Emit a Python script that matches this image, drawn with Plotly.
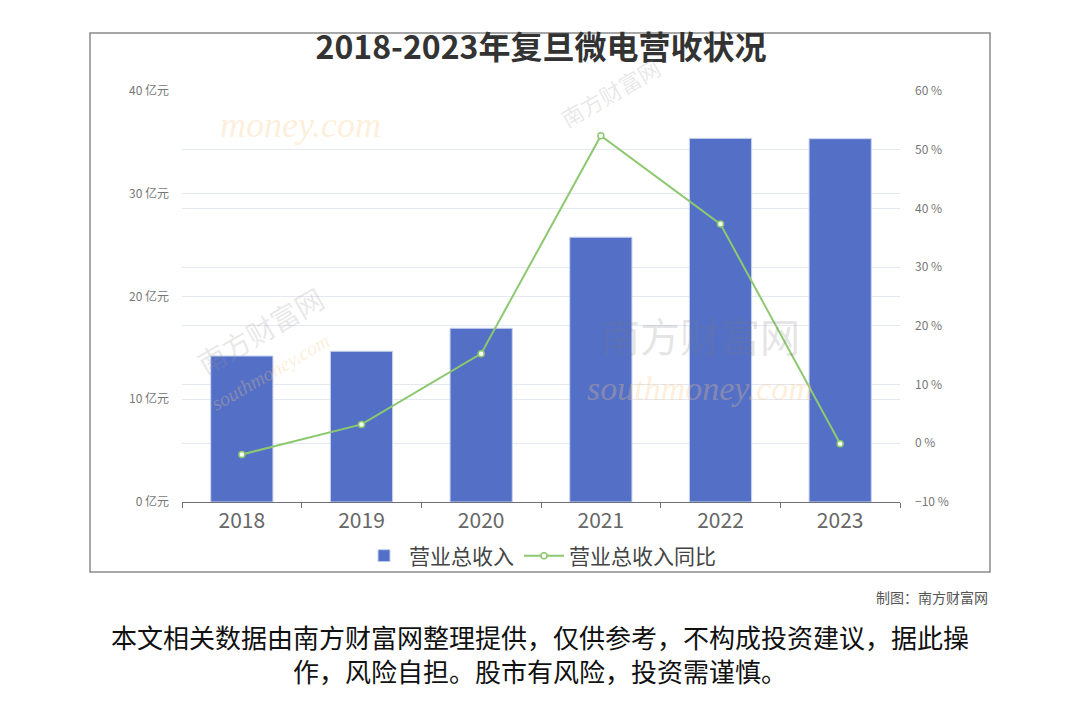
import plotly.graph_objects as go

years = ["2018", "2019", "2020", "2021", "2022", "2023"]
revenue = [14.21, 14.67, 16.91, 25.77, 35.39, 35.36]          # 亿元
growth = [-1.9, 3.22, 15.27, 52.39, 37.33, -0.08]             # %

title_text = "2018-2023年复旦微电营收状况"
bar_name = "营业总收入"
line_name = "营业总收入同比"
credit = "制图：南方财富网"
disclaimer1 = "本文相关数据由南方财富网整理提供，仅供参考，不构成投资建议，据此操"
disclaimer2 = "作，风险自担。股市有风险，投资需谨慎。"

FONT = "Noto Sans CJK SC"
W, H = 1080, 720
OFF = 8  # page body margin offset
L, R, T, B = 182, 900, 91, 502   # desired plot area in screenshot pixels
pw, ph = R - L, B - T

def px(x):
    return (x - L) / pw

def py(y):
    return (B - y) / ph

fig = go.Figure()
fig.add_trace(go.Bar(
    x=years, y=revenue, name=bar_name,
    marker=dict(color="#5470c6", line=dict(color="#c9d3f0", width=1)),
    width=0.52, yaxis="y",
))
fig.add_trace(go.Scatter(
    x=years, y=growth, name=line_name, mode="lines+markers",
    line=dict(color="#8cc870", width=2),
    marker=dict(symbol="circle", size=6, color="white",
                line=dict(color="#8cc870", width=1.5)),
    yaxis="y2",
))

shapes = [dict(type="rect", xref="paper", yref="paper",
               x0=px(90), x1=px(990), y0=py(572), y1=py(33),
               line=dict(color="#8a8a8a", width=1.5), layer="below")]

annotations = [
    dict(text=credit, xref="paper", yref="paper", x=px(990), y=py(597),
         xanchor="right", yanchor="middle", showarrow=False,
         font=dict(family=FONT, size=14, color="#555555")),
    dict(text=disclaimer1, xref="paper", yref="paper", x=px(540), y=py(636),
         xanchor="center", yanchor="middle", showarrow=False,
         font=dict(family=FONT, size=26, color="#111111")),
    dict(text=disclaimer2, xref="paper", yref="paper", x=px(540), y=py(670),
         xanchor="center", yanchor="middle", showarrow=False,
         font=dict(family=FONT, size=26, color="#111111")),
]

# faint watermarks (kept away from tick labels and each other)
wm = [
    ("南方财富网", 700, 335, 0, 40, "rgba(120,120,120,0.20)"),
    ("南方财富网", 260, 330, -30, 28, "rgba(150,150,150,0.22)"),
    ("南方财富网", 610, 92, -30, 22, "rgba(150,150,150,0.22)"),
]
for t, x, y, ang, sz, col in wm:
    annotations.append(dict(text=t, xref="paper", yref="paper", x=px(x), y=py(y),
                            xanchor="center", yanchor="middle", showarrow=False,
                            textangle=ang, font=dict(family=FONT, size=sz, color=col)))
wm2 = [
    ("southmoney.com", 700, 388, 0, 34),
    ("southmoney.com", 270, 372, -30, 20),
    ("money.com", 300, 125, 0, 36),
]
for t, x, y, ang, sz in wm2:
    annotations.append(dict(text="<i>" + t + "</i>", xref="paper", yref="paper",
                            x=px(x), y=py(y), xanchor="center", yanchor="middle",
                            showarrow=False, textangle=ang,
                            font=dict(family="Liberation Serif", size=sz,
                                      color="rgba(250,200,130,0.30)")))

fig.update_layout(
    width=W, height=H,
    margin=dict(l=L - OFF, r=W - R + OFF, t=T - OFF, b=H - B + OFF),
    paper_bgcolor="white", plot_bgcolor="white",
    title=dict(text="<b>" + title_text + "</b>", x=0.5, xref="paper",
               y=1 - (48 - OFF) / H, yanchor="middle",
               font=dict(family=FONT, size=32, color="#333333")),
    font=dict(family=FONT, color="#666666"),
    showlegend=True,
    legend=dict(orientation="h", x=px(540), xanchor="center", y=py(556),
                yanchor="middle", font=dict(family=FONT, size=21, color="#444444"),
                itemwidth=40, bgcolor="rgba(0,0,0,0)"),
    xaxis=dict(type="category", showline=True, linecolor="#6e7079", linewidth=1,
               ticks="outside", tickson="boundaries", ticklen=5, tickcolor="#6e7079",
               tickfont=dict(family=FONT, size=21, color="#666666"),
               showgrid=False, zeroline=False),
    yaxis=dict(range=[0, 40], dtick=10, ticksuffix=" 亿元",
               tickfont=dict(family=FONT, size=12, color="#777777"),
               showgrid=True, gridcolor="#e3e8f3", zeroline=False, showline=False,
               ticks="", ticklabelstandoff=12),
    yaxis2=dict(range=[-10, 60], dtick=10, ticksuffix=" %", overlaying="y",
                side="right", tickfont=dict(family=FONT, size=12, color="#777777"),
                showgrid=True, gridcolor="#e3e8f3", zeroline=False, showline=False,
                ticks="", ticklabelstandoff=14),
    bargap=0.48,
    shapes=shapes,
    annotations=annotations,
)

fig.write_html("out.html")
